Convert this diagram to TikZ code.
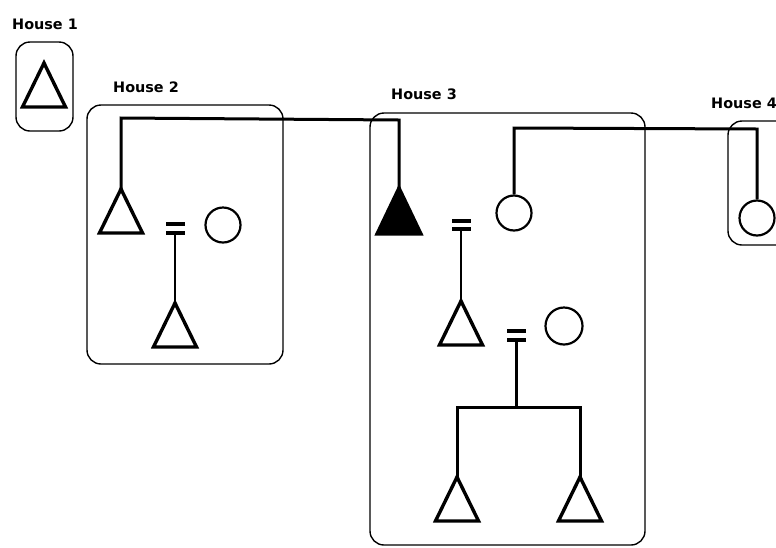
\documentclass[tikz,border=0pt]{standalone}
\usepackage{fontspec}
\newfontfamily\labelfont{DejaVu Sans}[BoldFont={DejaVu Sans Bold}]
\begin{document}
\begin{tikzpicture}[x=1pt,y=-1pt,
  kin/.style={line width=3pt, line join=miter},
  housebox/.style={line width=1.4pt, rounded corners=14pt},
  housename/.style={font=\labelfont\bfseries\fontsize{14.4}{16}\selectfont, inner sep=0pt},
  male/.style={line width=3.4pt, line join=miter},
  female/.style={circle, draw, line width=2.2pt, minimum size=35pt, inner sep=0pt},
  bond/.style={line width=3.8pt}
]
\useasboundingbox (0,0) rectangle (776,547);
\clip (0,0) rectangle (776,547);

% ---- house outlines and names ----
\draw[housebox] (16,42) rectangle (73,131);
\draw[housebox] (87,105) rectangle (283,364);
\draw[housebox] (370,113) rectangle (645,545);
\draw[housebox] (728,121) rectangle (792,245);

\node[housename] (h1) at (45,24) {House 1};
\node[housename] (h2) at (146,87) {House 2};
\node[housename] (h3) at (424,94) {House 3};
\node[housename, anchor=east] (h4) at (777,103) {House 4};

% ---- males (apex coordinates) ----
\coordinate (m1) at (44,63);
\coordinate (m2) at (121,189);
\coordinate (m3) at (175,303);
\coordinate (m4) at (399,188);
\coordinate (m5) at (461,301);
\coordinate (m6) at (457,477);
\coordinate (m7) at (580,477);

\foreach \p in {m1,m2,m3,m5,m6,m7}
  \draw[male] (\p) -- ++(-21.5,44) -- ++(43,0) -- cycle;
\draw[male, fill=black] (m4) -- ++(-22,46) -- ++(44,0) -- cycle;

% ---- females ----
\node[female] (f1) at (223,225) {};
\node[female] (f2) at (514,213) {};
\node[female, minimum size=37pt] (f3) at (564,326) {};
\node[female] (f4) at (757,218) {};

% ---- marriage bonds ----
\draw[bond] (166,224) -- (185,224) (166,233) -- (185,233);
\coordinate (b1) at (175,235);
\draw[bond] (452,221) -- (471,221) (452,229) -- (471,229);
\coordinate (b2) at (461,231);
\draw[bond] (507,331) -- (526,331) (507,340) -- (526,340);
\coordinate (b3) at (516,342);

% ---- descent lines ----
\coordinate (top2) at (121,118);
\coordinate (top4) at (399,120);
\coordinate (top5) at (514,128);
\coordinate (top6) at (757,129);
\coordinate (sib) at (516,407);

\draw[kin] (m2) -- (top2) -- (top4) -- (m4);
\draw[kin] (f2.north) -- (top5) -- (top6) -- (f4.north);
\draw[kin, line width=2.2pt] (b1) -- (m3);
\draw[kin, line width=2.2pt] (b2) -- (m5);
\draw[kin] (b3) -- (sib);
\draw[kin] (m6) -- (457,407) -- (580,407) -- (m7);
\end{tikzpicture}
\end{document}
